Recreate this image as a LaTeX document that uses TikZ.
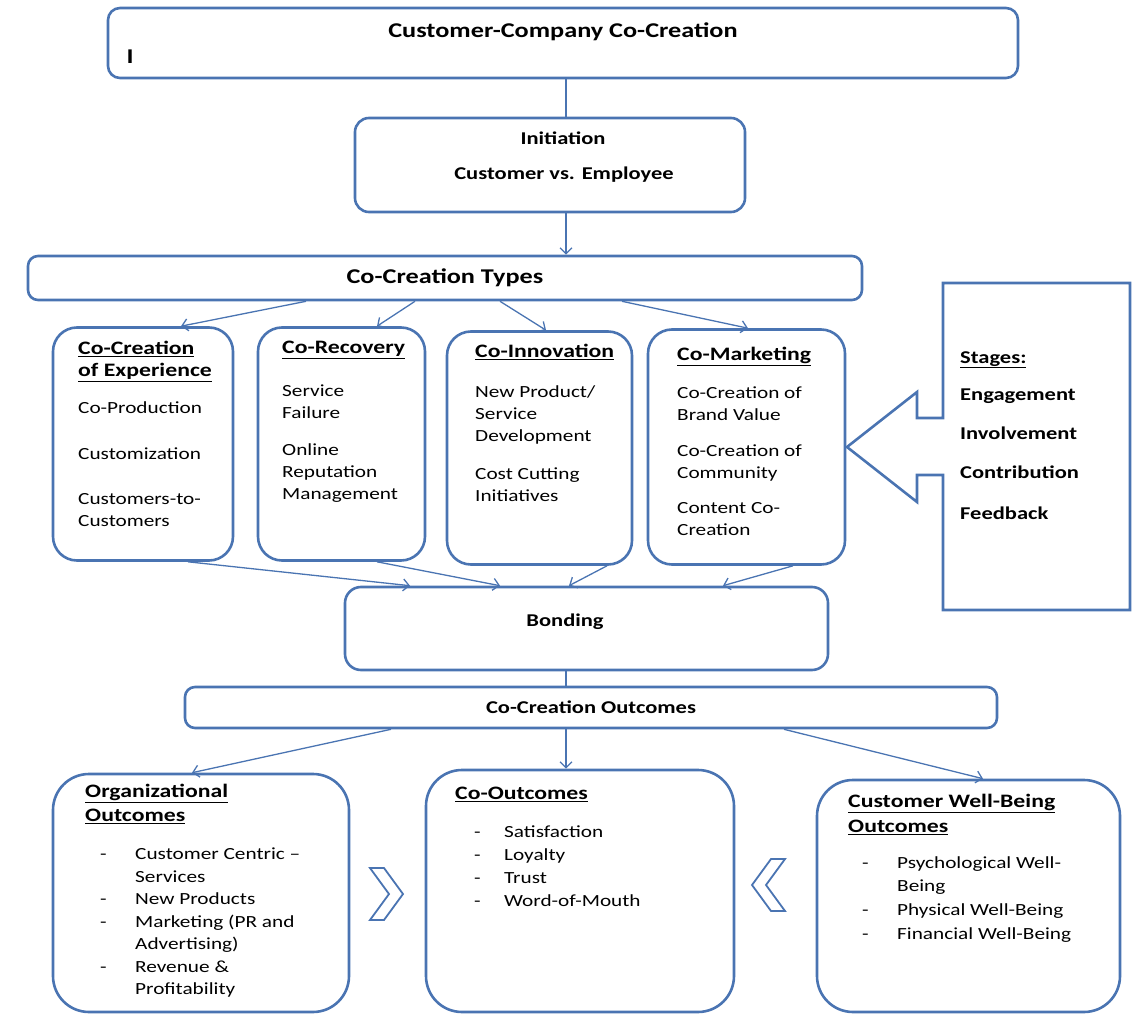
\documentclass[tikz,border=0pt]{standalone}
\usepackage{fontspec}
\setmainfont{Carlito}[FakeStretch=1.25]
\usetikzlibrary{arrows.meta}

\definecolor{frameblue}{RGB}{74,116,178}

\tikzset{
	box/.style = {draw=frameblue, line width=2.6pt, rounded corners=#1, inner sep=0pt},
	box/.default = 12pt,
	link/.style = {draw=frameblue, line width=1.3pt, -{Straight Barb[length=6pt,width=12pt]}},
	joint/.style = {draw=frameblue, line width=1.3pt},
	body/.style = {anchor=north west, align=left, inner sep=0pt, font=\fontsize{17}{22}\selectfont},
	head/.style = {inner sep=0pt, font=\fontsize{18}{22}\selectfont\bfseries},
	bighead/.style = {inner sep=0pt, font=\fontsize{21}{24}\selectfont\bfseries},
	chevron/.style = {draw=frameblue, line width=1.8pt, line join=miter, fill=white}
}

\begin{document}
\begin{tikzpicture}[x=1pt, y=-1pt]
	\useasboundingbox (0,0) rectangle (1135,1014);

	% top of the chain
	\node[box, minimum width=910pt, minimum height=70pt] (top) at (563,43) {};
	\node[bighead] (toptitle) at (563,32) {Customer-Company Co-Creation};
	\node[bighead] (topmark) at (130,57) {I};

	\node[box=14pt, minimum width=390pt, minimum height=94pt] (init) at (550,165) {};
	\node[head] (inittitle) at (563,138) {Initiation};
	\node[head] (initsub) at (564,175) {Customer vs. Employee};

	\node[box=10pt, minimum width=834pt, minimum height=44pt, bighead] (types) at (445,278) {Co-Creation Types};

	% the four co-creation types
	\node[box=24pt, minimum width=180pt, minimum height=233pt] (exp) at (143,444) {};
	\node[box=24pt, minimum width=167pt, minimum height=233pt] (rec) at (341.5,444) {};
	\node[box=24pt, minimum width=185pt, minimum height=233pt] (inn) at (539.5,448) {};
	\node[box=24pt, minimum width=197pt, minimum height=235pt] (mkt) at (746.5,447) {};

	\node[body] (exptext) at (78,341) {%
		\textbf{\fontsize{19}{22}\selectfont\underline{Co-Creation}}\\
		\textbf{\fontsize{19}{22}\selectfont\underline{of Experience}}\\[15pt]
		Co-Production\\[24pt]
		Customization\\[23pt]
		Customers-to-\\
		Customers};
	\node[body] (rectext) at (282,341) {%
		\textbf{\fontsize{19}{22}\selectfont\underline{Co-Recovery}}\\[21pt]
		Service\\
		Failure\\[15pt]
		Online\\
		Reputation\\
		Management};
	\node[body] (inntext) at (475,344) {%
		\textbf{\fontsize{19}{22}\selectfont\underline{Co-Innovation}}\\[18pt]
		New Product/\\
		Service\\
		Development\\[16pt]
		Cost Cutting\\
		Initiatives};
	\node[body] (mkttext) at (677,347) {%
		\textbf{\fontsize{19}{22}\selectfont\underline{Co-Marketing}}\\[16pt]
		Co-Creation of\\
		Brand Value\\[14pt]
		Co-Creation of\\
		Community\\[13pt]
		Content Co-\\
		Creation};

	% stages box with its block arrow
	\coordinate (stNW) at (943,283);
	\coordinate (stSE) at (1130,610);
	\coordinate (tip) at (847,447);
	\draw[draw=frameblue, line width=2.6pt, line join=miter]
		(stNW) -- (stNW -| stSE) -- (stSE) -- (stSE -| stNW) -- (943,475) -- (917,475)
		-- (917,502) -- (tip) -- (917,392) -- (917,418) -- (943,418) -- cycle;
	\node[body, font=\fontsize{18}{22}\selectfont\bfseries] (stages) at (960,351) {%
		\underline{Stages:}\\[15pt]
		Engagement\\[17pt]
		Involvement\\[17pt]
		Contribution\\[19pt]
		Feedback};

	\node[box=16pt, minimum width=483pt, minimum height=83pt] (bond) at (586.5,628.5) {};
	\node[head] (bondtitle) at (565,622) {Bonding};

	\node[box=10pt, minimum width=812pt, minimum height=41pt, head] (outc) at (591,707.5) {Co-Creation Outcomes};

	% outcome boxes
	\node[box=36pt, minimum width=296pt, minimum height=238pt] (org) at (201,893) {};
	\node[box=36pt, minimum width=308pt, minimum height=242pt] (co) at (580,891) {};
	\node[box=36pt, minimum width=303pt, minimum height=232pt] (wb) at (968.5,896) {};

	\node[body, font=\fontsize{19}{24}\selectfont\bfseries] (orghead) at (85,784) {%
		\underline{Organizational}\\
		\underline{Outcomes}};
	\node[body, font=\fontsize{17}{22.5}\selectfont] (orglist) at (100,848) {%
		\makebox[35pt][l]{-}Customer Centric --\\
		\hspace*{35pt}Services\\
		\makebox[35pt][l]{-}New Products\\
		\makebox[35pt][l]{-}Marketing (PR and\\
		\hspace*{35pt}Advertising)\\
		\makebox[35pt][l]{-}Revenue \&\\
		\hspace*{35pt}Profitability};

	\node[body, font=\fontsize{19}{22}\selectfont\bfseries] (cohead) at (455,787) {\underline{Co-Outcomes}};
	\node[body, font=\fontsize{17}{22.7}\selectfont] (colist) at (474,826) {%
		\makebox[30pt][l]{-}Satisfaction\\
		\makebox[30pt][l]{-}Loyalty\\
		\makebox[30pt][l]{-}Trust\\
		\makebox[30pt][l]{-}Word-of-Mouth};

	\node[body, font=\fontsize{19}{25}\selectfont\bfseries] (wbhead) at (848,794) {%
		\underline{Customer Well-Being}\\
		\underline{Outcomes}};
	\node[body, font=\fontsize{17}{23.7}\selectfont] (wblist) at (862,856) {%
		\makebox[35pt][l]{-}Psychological Well-\\
		\hspace*{35pt}Being\\
		\makebox[35pt][l]{-}Physical Well-Being\\
		\makebox[35pt][l]{-}Financial Well-Being};

	% chevrons between the outcome boxes
	\draw[chevron] (370,868) -- (384,868) -- (403,894) -- (384,920) -- (370,920) -- (389,894) -- cycle;
	\draw[chevron] (785,859) -- (771,859) -- (752,885) -- (771,911) -- (785,911) -- (766,885) -- cycle;

	% connectors
	\draw[joint] ([xshift=3pt]top.south) -- ([xshift=16pt]init.north);
	\draw[link] ([xshift=16pt]init.south) -- ([xshift=121pt]types.north);

	\draw[link] ([xshift=-139pt]types.south) -- ([xshift=38pt]exp.north);
	\draw[link] ([xshift=-30pt]types.south) -- ([xshift=35.5pt]rec.north);
	\draw[link] ([xshift=55pt]types.south) -- ([xshift=6.5pt]inn.north);
	\draw[link] ([xshift=177pt]types.south) -- ([xshift=1.5pt]mkt.north);

	\draw[link] ([xshift=45pt]exp.south) -- ([xshift=-176.5pt]bond.north);
	\draw[link] ([xshift=35.5pt]rec.south) -- ([xshift=-86.5pt]bond.north);
	\draw[link] ([xshift=67.5pt]inn.south) -- ([xshift=-17.5pt]bond.north);
	\draw[link] ([xshift=46.5pt]mkt.south) -- ([xshift=136.5pt]bond.north);

	\draw[joint] ([xshift=-20.5pt]bond.south) -- ([xshift=-25pt]outc.north);

	\draw[link] ([xshift=-200pt]outc.south) -- ([xshift=-9pt]org.north);
	\draw[link] ([xshift=-25pt]outc.south) -- ([xshift=-14pt]co.north);
	\draw[link] ([xshift=193pt]outc.south) -- ([xshift=14.5pt]wb.north);
\end{tikzpicture}
\end{document}
